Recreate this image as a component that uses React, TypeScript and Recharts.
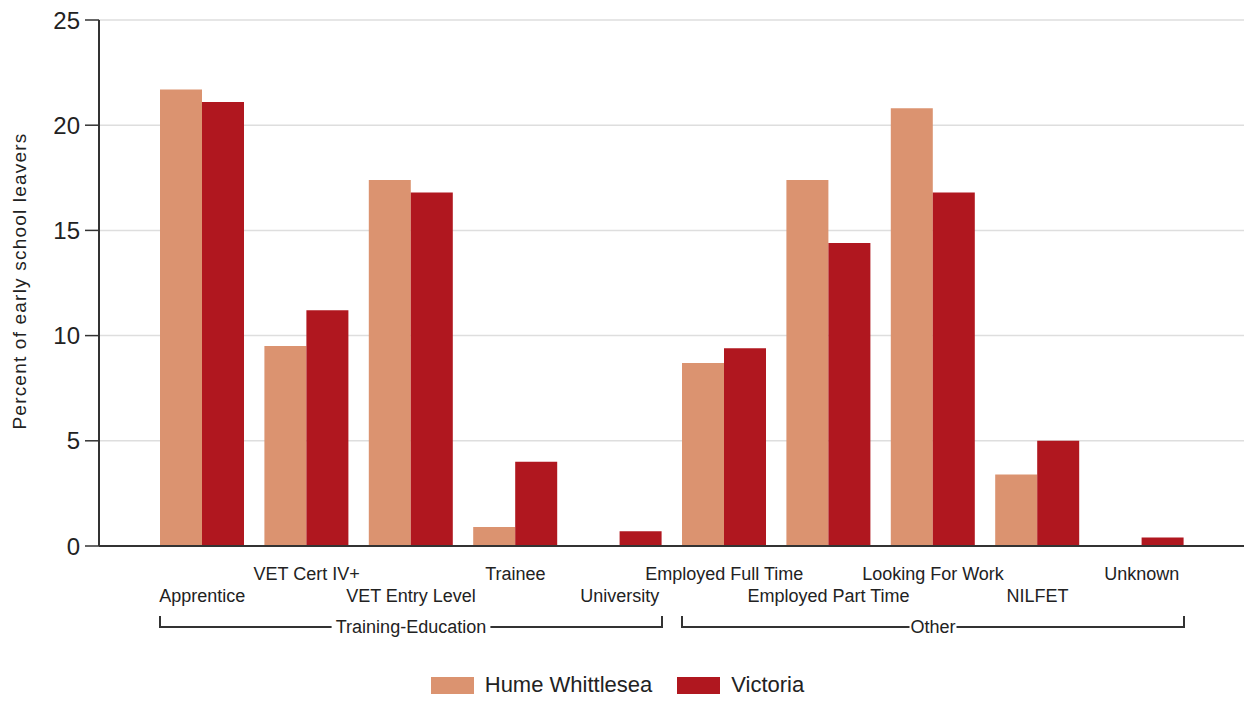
import React from 'react';
import { BarChart, Bar, XAxis, YAxis, CartesianGrid, Legend } from 'recharts';

const categories = [
    'Apprentice',
    'VET Cert IV+',
    'VET Entry Level',
    'Trainee',
    'University',
    'Employed Full Time',
    'Employed Part Time',
    'Looking For Work',
    'NILFET',
    'Unknown',
];
const categoryGroups = [
    'Training-Education',
    'Training-Education',
    'Training-Education',
    'Training-Education',
    'Training-Education',
    'Other',
    'Other',
    'Other',
    'Other',
    'Other',
];
const humeWhittlesea = [21.7, 9.5, 17.4, 0.9, 0, 8.7, 17.4, 20.8, 3.4, 0];
const victoria = [21.1, 11.2, 16.8, 4.0, 0.7, 9.4, 14.4, 16.8, 5.0, 0.4];
const yTicks = [0, 5, 10, 15, 20, 25];

const FONT = "'Liberation Sans', Arial, sans-serif";
const TEXT = '#222222';
const AXIS = '#333333';
const BAR_GAP = 10;

const data = categories.map((name, i) => ({
    name,
    group: categoryGroups[i],
    hume: humeWhittlesea[i],
    victoria: victoria[i],
}));

// contiguous runs of the same group -> bracket under the axis
const groups: { name: string; start: number; end: number }[] = [];
categoryGroups.forEach((g, i) => {
    const last = groups[groups.length - 1];
    if (last && last.name === g) last.end = i;
    else groups.push({ name: g, start: i, end: i });
});

const tickXs: number[] = [];

const renderTick = (props: any) => {
    const { x, y, payload } = props;
    const i = payload.index ?? props.index;
    tickXs[i] = x;
    const rowY = i % 2 === 0 ? y + 56 : y + 34;
    const parts: React.ReactNode[] = [
        <text key="lbl" x={x} y={rowY} textAnchor="middle" fontSize={18} fill={TEXT} fontFamily={FONT}>
            {payload.value}
        </text>,
    ];
    if (i === categories.length - 1) {
        const bw = tickXs[1] - tickXs[0];
        groups.forEach((g) => {
            const left = tickXs[g.start] - bw / 2 + BAR_GAP;
            const right = tickXs[g.end] + bw / 2 - BAR_GAP;
            const mid = (left + right) / 2;
            const tw = g.name.length * 8.6 + 4; // rough text width at 18px
            parts.push(
                <path
                    key={`b-${g.name}`}
                    d={`M${left},${y + 70}V${y + 81}H${right}V${y + 70}`}
                    fill="none"
                    stroke={AXIS}
                    strokeWidth={2}
                />,
                <rect key={`r-${g.name}`} x={mid - tw / 2} y={y + 72} width={tw} height={18} fill="#ffffff" />,
                <text
                    key={`t-${g.name}`}
                    x={mid}
                    y={y + 81}
                    textAnchor="middle"
                    dominantBaseline="central"
                    fontSize={18}
                    fill={TEXT}
                    fontFamily={FONT}
                >
                    {g.name}
                </text>
            );
        });
    }
    return <g>{parts}</g>;
};

const renderLegend = (props: any) => {
    const { payload } = props;
    return (
        <div style={{ display: 'flex', justifyContent: 'center', alignItems: 'center', height: 26, paddingRight: 10, fontFamily: FONT }}>
            {(payload || []).map((p: any, i: number) => (
                <div key={p.value} style={{ display: 'flex', alignItems: 'center', marginLeft: i === 0 ? 0 : 25 }}>
                    <div style={{ width: 43, height: 17, background: p.color }} />
                    <span style={{ marginLeft: 11, fontSize: 22, color: TEXT }}>{p.value}</span>
                </div>
            ))}
        </div>
    );
};

const renderYLabel = (props: any) => {
    const vb = props.viewBox || { x: 0, y: 20, height: 526 };
    const cx = vb.x + 19;
    const cy = vb.y + vb.height / 2 - 2;
    return (
        <text
            x={cx}
            y={cy}
            transform={`rotate(-90, ${cx}, ${cy})`}
            textAnchor="middle"
            dominantBaseline="central"
            fontSize={19}
            letterSpacing={1.2}
            fill={TEXT}
            fontFamily={FONT}
        >
            Percent of early school leavers
        </text>
    );
};

export default function App() {
    return (
        <div style={{ position: 'absolute', left: 0, top: 0, background: '#fff' }}>
            <BarChart
                width={1245}
                height={701}
                data={data}
                margin={{ top: 20, right: 1, left: 0, bottom: 0 }}
                barCategoryGap={BAR_GAP}
                barGap={0}
                style={{ fontFamily: FONT }}
            >
                <CartesianGrid vertical={false} stroke="#dedede" strokeWidth={1.5} />
                <XAxis
                    dataKey="name"
                    interval={0}
                    height={155}
                    padding={{ left: 51, right: 50 }}
                    tickSize={0}
                    tickMargin={0}
                    tickLine={false}
                    axisLine={{ stroke: AXIS, strokeWidth: 2 }}
                    tick={renderTick}
                />
                <YAxis
                    width={99}
                    domain={[0, 25]}
                    ticks={yTicks}
                    tickSize={14}
                    tickMargin={5}
                    tick={{ fontSize: 24, fill: TEXT, fontFamily: FONT }}
                    tickLine={{ stroke: AXIS, strokeWidth: 1.5 }}
                    axisLine={{ stroke: AXIS, strokeWidth: 2 }}
                    label={{ content: renderYLabel }}
                />
                <Legend
                    layout="horizontal"
                    verticalAlign="middle"
                    align="center"
                    content={renderLegend}
                    wrapperStyle={{ top: 672, left: 0, width: 1245, height: 26 }}
                />
                <Bar dataKey="hume" name="Hume Whittlesea" fill="#DB9370" isAnimationActive={false} />
                <Bar dataKey="victoria" name="Victoria" fill="#B0171F" isAnimationActive={false} />
            </BarChart>
        </div>
    );
}
